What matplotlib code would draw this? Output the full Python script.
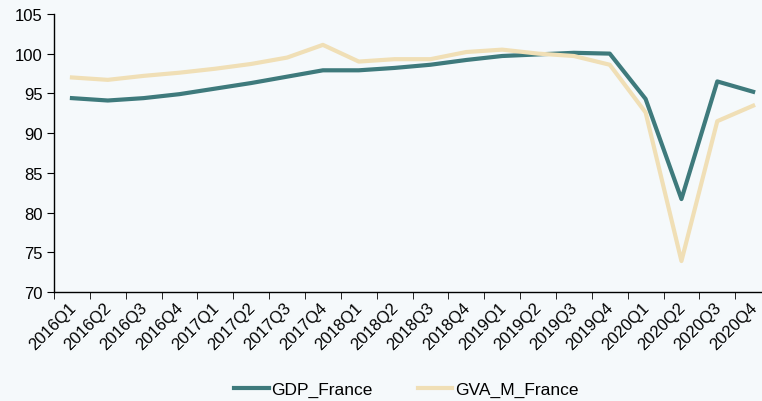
import matplotlib
matplotlib.use("Agg")
import matplotlib.pyplot as plt
import matplotlib.transforms as mtransforms
import numpy as np
from matplotlib.ticker import FixedLocator

quarters = ["2016Q1", "2016Q2", "2016Q3", "2016Q4", "2017Q1", "2017Q2", "2017Q3", "2017Q4",
            "2018Q1", "2018Q2", "2018Q3", "2018Q4", "2019Q1", "2019Q2", "2019Q3", "2019Q4",
            "2020Q1", "2020Q2", "2020Q3", "2020Q4"]
gdp_france = [94.4, 94.1, 94.4, 94.9, 95.6, 96.3, 97.1, 97.9, 97.9, 98.2, 98.6, 99.2,
              99.7, 99.9, 100.1, 100.0, 94.3, 81.7, 96.5, 95.2]
gva_m_france = [97.0, 96.7, 97.2, 97.6, 98.1, 98.7, 99.5, 101.1, 99.0, 99.3, 99.3, 100.2,
                100.5, 100.0, 99.7, 98.6, 92.6, 73.9, 91.5, 93.45]

plt.rcParams['font.family'] = ['Liberation Sans', 'DejaVu Sans']
bg = '#F5F9FB'
fig = plt.figure(figsize=(7.62, 4.02), dpi=100, facecolor=bg)
ax = fig.add_axes([0.0709, 0.271, 0.941, 0.692], facecolor=bg)

x = np.arange(len(quarters))
ax.plot(x, gdp_france, color='#3E7A7C', lw=3, label='GDP_France', solid_joinstyle='round')
ax.plot(x, gva_m_france, color='#F0DFB6', lw=3, label='GVA_M_France', solid_joinstyle='round')

ax.set_xlim(-0.5, len(quarters) - 0.5)
ax.set_ylim(70, 105)
ax.set_yticks(np.arange(70, 106, 5))
ax.set_xticks(x)
ax.set_xticklabels([])
offset = mtransforms.ScaledTranslation(-4 / 100, -7 / 100, fig.dpi_scale_trans)
trans = ax.get_xaxis_transform() + offset
for xi, q in zip(x, quarters):
    ax.text(xi, 0, q, rotation=45, ha='right', va='top', rotation_mode='anchor',
            fontsize=12, transform=trans, clip_on=False)
ax.xaxis.set_minor_locator(FixedLocator(np.arange(-0.5, len(quarters), 1)))
ax.tick_params(axis='x', which='major', length=0)
ax.tick_params(axis='x', which='minor', length=5, direction='out', color='black')
ax.tick_params(axis='y', length=5, direction='out', labelsize=12, pad=3)
for s in ['top', 'right']:
    ax.spines[s].set_visible(False)
for s in ['left', 'bottom']:
    ax.spines[s].set_color('black')
    ax.spines[s].set_linewidth(1)

fig.legend(loc='center', bbox_to_anchor=(0.533, 0.028), ncol=2, frameon=False,
           fontsize=12.5, handlelength=2.0, columnspacing=2.6, handletextpad=0.15)

fig.savefig('out.png', dpi=100, facecolor=bg)
